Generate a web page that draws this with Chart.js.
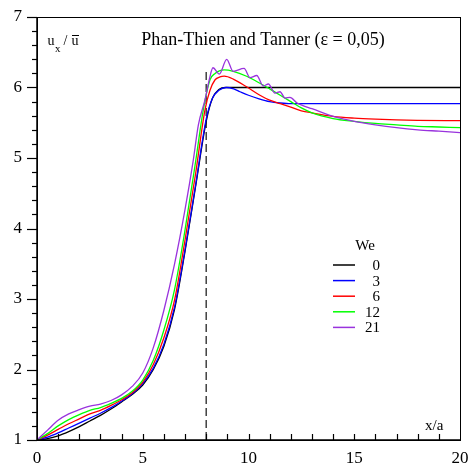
<!DOCTYPE html>
<html><head><meta charset="utf-8">
<script src="https://cdn.jsdelivr.net/npm/chart.js@4"></script>
<style>html,body{margin:0;padding:0;background:#fff}</style>
</head><body>
<canvas id="c" width="468" height="470" style="width:468px;height:470px;display:block"></canvas>
<script>
// ---- data ----
const weLabels = ['0', '3', '6', '12', '21'];
const xTickLabels = [0, 5, 10, 15, 20];
const yTickLabels = [1, 2, 3, 4, 5, 6, 7];
const dashedX = [8, 8];
const dashedY = [1, 6.22];

const xWe0 = [0,0.5,1,1.5,2,2.5,3,3.5,4,4.5,5,5.5,6,6.5,7,7.5,8,8.3,8.6,8.9,9.2,12,16,20];
const yWe0 = [1,1.02,1.06,1.12,1.19,1.27,1.35,1.44,1.54,1.645,1.78,2.0,2.33,2.85,3.68,4.60,5.52,5.85,5.97,6.0,6.0,6.0,6.0,6.0];

const xWe3 = [0,0.5,1,1.5,2,2.5,3,3.5,4,4.5,5,5.5,6,6.5,7,7.5,8,8.3,8.6,8.95,9.3,9.6,10,10.5,11,11.5,12,13,16,20];
const yWe3 = [1,1.04,1.10,1.17,1.24,1.31,1.38,1.46,1.55,1.655,1.80,2.02,2.36,2.88,3.70,4.62,5.55,5.85,5.96,6.0,5.98,5.94,5.89,5.84,5.80,5.78,5.77,5.77,5.77,5.77];

const xWe6 = [0,0.5,1,1.5,2,2.5,3,3.5,4,4.5,5,5.5,6,6.5,7,7.5,7.94,8.18,8.42,8.65,8.85,9.28,9.91,10.54,11,11.5,12,12.5,13,14,15,16,17,18,20];
const yWe6 = [1,1.07,1.15,1.23,1.30,1.37,1.42,1.49,1.57,1.67,1.82,2.07,2.45,2.98,3.84,4.78,5.68,5.96,6.11,6.15,6.16,6.12,6.01,5.89,5.82,5.77,5.72,5.67,5.64,5.59,5.565,5.55,5.54,5.535,5.53];

const xWe12 = [0,0.5,1,1.5,2,2.5,3,3.5,4,4.5,5,5.5,6,6.5,7,7.5,7.86,8.18,8.42,8.65,8.85,9.28,9.91,10.54,11,11.5,12,12.5,13,14,15,16,17,18,19,20];
const yWe12 = [1,1.09,1.20,1.29,1.36,1.42,1.46,1.52,1.59,1.69,1.85,2.13,2.56,3.13,3.98,4.95,5.68,6.11,6.20,6.24,6.25,6.23,6.16,6.06,5.98,5.89,5.80,5.71,5.64,5.56,5.52,5.49,5.47,5.45,5.44,5.43];

const xWe21 = [0,0.5,1,1.5,2,2.5,3,3.5,4,4.5,5,5.5,6,6.5,7,7.39,7.63,7.94,8.15,8.32,8.62,8.97,9.27,9.79,10.07,10.39,10.7,10.94,11.25,11.49,11.73,11.96,12.3,12.6,13,14,15,16,17,18,19,20];
const yWe21 = [1,1.14,1.28,1.37,1.43,1.48,1.51,1.56,1.64,1.76,1.95,2.31,2.84,3.49,4.27,4.97,5.47,5.82,6.12,6.28,6.19,6.40,6.23,6.27,6.14,6.17,6.02,6.05,5.92,5.94,5.85,5.86,5.78,5.74,5.70,5.59,5.52,5.47,5.43,5.40,5.38,5.36];

const seriesX = [xWe0, xWe3, xWe6, xWe12, xWe21];
const seriesY = [yWe0, yWe3, yWe6, yWe12, yWe21];
const colors = ['#000000', '#0000ff', '#ff0000', '#00ff00', '#9933dd'];

const pts = (xs, ys) => xs.map((x, i) => ({x, y: ys[i]}));

const datasets = seriesX.map((xs, i) => ({
  label: weLabels[i],
  data: pts(xs, seriesY[i]),
  borderColor: colors[i],
  borderWidth: 1.3,
  pointRadius: 0,
  showLine: true,
  fill: false,
  cubicInterpolationMode: 'monotone',
  order: 4 - i
}));
datasets.push({
  label: 'x=8',
  data: pts(dashedX, dashedY),
  borderColor: '#333333',
  borderWidth: 1.4,
  borderDash: [8, 4],
  pointRadius: 0,
  showLine: true,
  order: 10
});

const SERIF = '"Liberation Serif", "DejaVu Serif", serif';

const deco = {
  id: 'deco',
  afterDraw(chart) {
    const ctx = chart.ctx;
    const a = chart.chartArea;
    const xs = chart.scales.x, ys = chart.scales.y;
    ctx.save();
    ctx.strokeStyle = '#000';
    ctx.lineWidth = 1;
    // frame
    ctx.strokeRect(Math.round(a.left) + 0.5, Math.round(a.top) + 0.5, Math.round(a.right - a.left), Math.round(a.bottom - a.top));
    // heavier axes
    ctx.lineWidth = 1.5;
    ctx.beginPath();
    ctx.moveTo(a.left, a.top); ctx.lineTo(a.left, a.bottom); ctx.lineTo(a.right, a.bottom);
    ctx.stroke();
    // y ticks (outside), minor every 0.2
    ctx.lineWidth = 1.2;
    for (let k = 0; k <= 30; k++) {
      const v = 1 + k * 0.2;
      const py = Math.round(ys.getPixelForValue(v)) + 0.5;
      const len = (k % 5 === 0) ? 10 : 5;
      ctx.beginPath(); ctx.moveTo(a.left - len, py); ctx.lineTo(a.left, py); ctx.stroke();
    }
    // x ticks (inside), every 1
    for (let v = 1; v <= 19; v++) {
      const px = Math.round(xs.getPixelForValue(v)) + 0.5;
      ctx.beginPath(); ctx.moveTo(px, a.bottom); ctx.lineTo(px, a.bottom - 6); ctx.stroke();
    }
    ctx.fillStyle = '#000';
    // tick labels from the scales
    ctx.font = '17px ' + SERIF;
    ctx.textAlign = 'right';
    ctx.textBaseline = 'middle';
    yTickLabels.forEach(v => ctx.fillText(String(v), a.left - 15, ys.getPixelForValue(v)));
    ctx.textAlign = 'center';
    ctx.textBaseline = 'top';
    xTickLabels.forEach(v => ctx.fillText(String(v), xs.getPixelForValue(v), a.bottom + 10));
    // title
    ctx.font = '18px ' + SERIF;
    ctx.textAlign = 'center';
    ctx.textBaseline = 'alphabetic';
    ctx.fillText('Phan-Thien and Tanner (\u03b5 = 0,05)', 263, 45);
    // y axis label u_x / u-bar
    ctx.textAlign = 'left';
    ctx.font = '14px ' + SERIF;
    ctx.fillText('u', 47.5, 44.5);
    ctx.font = '11px ' + SERIF;
    ctx.fillText('x', 55, 51.5);
    ctx.font = '14px ' + SERIF;
    ctx.fillText('/', 63.5, 45);
    ctx.fillText('u', 71.5, 44.5);
    ctx.lineWidth = 1;
    ctx.beginPath(); ctx.moveTo(72, 35.5); ctx.lineTo(79, 35.5); ctx.stroke();
    // x axis label
    ctx.font = '15px ' + SERIF;
    ctx.fillText('x/a', 425, 430);
    // legend
    ctx.font = '15px ' + SERIF;
    ctx.textAlign = 'center';
    ctx.fillText('We', 365, 250);
    ctx.textAlign = 'right';
    ctx.lineWidth = 1.5;
    for (let i = 0; i < weLabels.length; i++) {
      const ly = 265 + i * 15.6;
      ctx.strokeStyle = colors[i];
      ctx.beginPath(); ctx.moveTo(333, ly); ctx.lineTo(355, ly); ctx.stroke();
      ctx.fillText(weLabels[i], 380, ly + 5);
    }
    ctx.restore();
  }
};

new Chart(document.getElementById('c'), {
  type: 'scatter',
  data: { datasets },
  options: {
    responsive: false,
    animation: false,
    devicePixelRatio: 1,
    layout: { padding: { top: 17, right: 8, left: 0, bottom: 0 } },
    plugins: { legend: { display: false }, tooltip: { enabled: false }, title: { display: false } },
    scales: {
      x: {
        type: 'linear', min: 0, max: 20,
        afterFit: s => { s.height = 30; },
        afterBuildTicks: s => { s.ticks = xTickLabels.map(v => ({value: v})); },
        grid: { display: false, drawTicks: false },
        border: { display: false },
        ticks: { display: false }
      },
      y: {
        type: 'linear', min: 1, max: 7,
        afterFit: s => { s.width = 37; },
        afterBuildTicks: s => { s.ticks = yTickLabels.map(v => ({value: v})); },
        grid: { display: false, drawTicks: false },
        border: { display: false },
        ticks: { display: false }
      }
    }
  },
  plugins: [deco]
});
</script>
</body></html>
